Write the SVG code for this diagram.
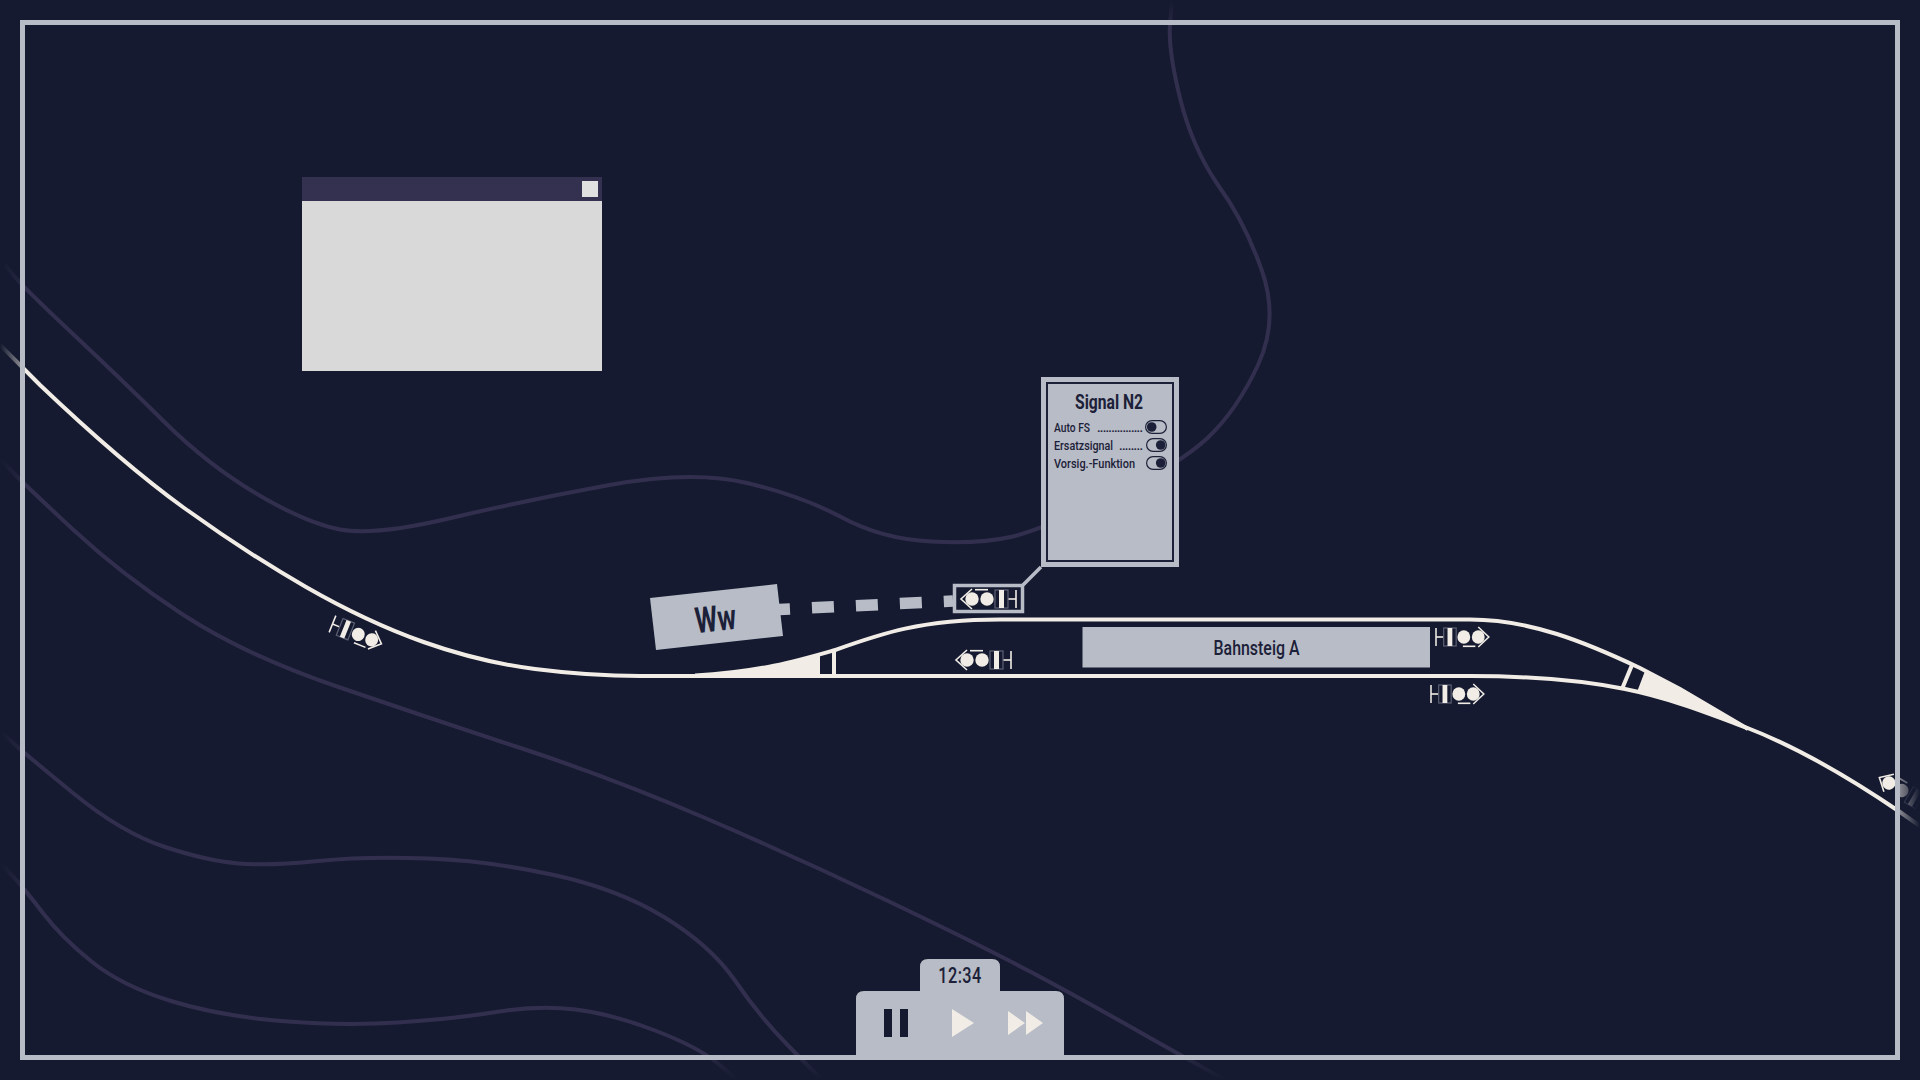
<svg xmlns="http://www.w3.org/2000/svg" xmlns:xlink="http://www.w3.org/1999/xlink" width="1920" height="1080" viewBox="0 0 1920 1080">
<style>
.contour{fill:none;stroke:#322f4e;stroke-width:4}
.track{fill:none;stroke:#f1ede6;stroke-width:4}
.fillc{fill:#f1ede6}
.panel{fill:#b7bcc6}
.dark{fill:#151a30}
.t{font-family:"Roboto","Liberation Sans",sans-serif;fill:#1c2038;font-weight:500}
.row{font-size:13px}
.tog{fill:none;stroke:#1c2038;stroke-width:1.2}
.sig line{stroke:#f1ede6;stroke-width:1.6}
.sig path{fill:none;stroke:#f1ede6;stroke-width:1.6}
.sig rect{fill:none;stroke:#5f6275;stroke-width:1.2}
</style>
<defs>
<g id="signal" class="sig">
<line x1="0" y1="-9" x2="0" y2="9"/>
<line x1="0" y1="0" x2="-8" y2="0"/>
<rect x="-21" y="-9" width="13" height="18"/>
<rect x="-17" y="-9" width="5" height="18" style="fill:#f1ede6;stroke:none"/>
<circle cx="-29" cy="0" r="6.7" class="fillc"/>
<circle cx="-44" cy="0" r="6.7" class="fillc"/>
<line x1="-41" y1="-9.3" x2="-28" y2="-9.3"/>
<path d="M-44 -10 L-55 0 L-44 10"/>
</g>
<linearGradient id="fadeL" x1="0" y1="0" x2="1" y2="0"><stop offset="0" stop-color="#151a30"/><stop offset="1" stop-color="#151a30" stop-opacity="0.5"/></linearGradient>
<linearGradient id="fadeR" x1="1" y1="0" x2="0" y2="0"><stop offset="0" stop-color="#151a30"/><stop offset="1" stop-color="#151a30" stop-opacity="0.5"/></linearGradient>
<linearGradient id="fadeT" x1="0" y1="0" x2="0" y2="1"><stop offset="0" stop-color="#151a30"/><stop offset="1" stop-color="#151a30" stop-opacity="0.5"/></linearGradient>
<linearGradient id="fadeB" x1="0" y1="1" x2="0" y2="0"><stop offset="0" stop-color="#151a30"/><stop offset="1" stop-color="#151a30" stop-opacity="0.5"/></linearGradient>
</defs>
<rect width="1920" height="1080" class="dark"/>
<g id="contours">
<path class="contour" d="M1172 0 L1170 24.5 Q1168 49 1180 98 Q1192 147 1218 185 Q1245 222 1262 271 Q1279 320 1258 365 Q1237 410 1208 437.5 Q1179 465 1110 497.5 Q1041 530 1010.5 537 Q980 544 931 541.5 Q882 539 842 517.5 Q802 496 747 483 Q692 470 609.5 485 Q527 500 451 518 Q375 536 340 529.5 Q306 523 257 494 Q208 465 165 422.5 Q122 380 73 334 Q24 288 14.5 276.5 L5 265"/>
<path class="contour" d="M0 459 L12 471.5 Q24 484 73 529.5 Q122 575 183.5 615 Q245 655 337 686.5 Q429 718 520.5 748 Q612 778 704 817.5 Q796 857 888 901 Q980 945 1030 971.5 Q1080 998 1152 1039 L1225 1080"/>
<path class="contour" d="M0 731 L12 742 Q24 753 73 793 Q122 833 165 847 Q208 861 238.5 863.5 Q269 866 318 861 Q367 856 428.5 858.5 Q490 861 554 875 Q618 889 664 917 Q710 945 735 980.5 Q759 1016 789.5 1047 L820 1078"/>
<path class="contour" d="M0 863 L12 875.5 Q24 888 42.5 912.5 Q61 937 91.5 961.5 Q122 986 171 1001 Q220 1016 281.5 1021 Q343 1026 398 1022.5 Q453 1019 496 1012 Q539 1005 575.5 1009.5 Q612 1014 655 1030.5 Q698 1047 716.5 1062.5 L735 1078"/>
</g>
<g id="connectors">
<path class="track" d="M0 345 L40 385 Q122 463 183.5 507.5 Q245 552 306 587 Q367 622 423.5 642 Q480 662 535 669 Q590 676 640 676 L1470 676 C1530 676 1580 680 1625 689 C1670 698 1710 714 1745 727 C1800 748 1850 778 1900 812 L1920 826"/>
<path class="track" d="M695 675.5 C760 672 800 660 835 650 C880 634 920 619.5 1000 619.5 L1470 619.5 C1530 619.5 1585 642 1640 668 L1680 689 L1748 729"/>
<path class="fillc" d="M690 676 C750 674 790 663 820 655 L820 676 Z"/>
<path class="fillc" d="M1645 671 L1637 692 C1680 702 1710 714 1745 728 L1748 729 L1680 689 Z"/>
<line class="track" x1="834" y1="650" x2="834" y2="676"/>
<line class="track" x1="1632" y1="665" x2="1622" y2="689"/>
<path d="M768 610 L953 601" fill="none" stroke="#b7bcc6" stroke-width="11.5" stroke-dasharray="22 22"/>
<path d="M1023 585 L1041 567" fill="none" stroke="#b7bcc6" stroke-width="3.5"/>
</g>
<g id="signal-n2">
<rect x="954.5" y="585.5" width="68" height="26" fill="#151a30" stroke="#b7bcc6" stroke-width="3.5"/>
<use href="#signal" xlink:href="#signal" transform="translate(1016 599)"/>
</g>
<g id="signal-lower-left"><use href="#signal" xlink:href="#signal" transform="translate(1011 660)"/></g>
<g id="signal-right-upper"><use href="#signal" xlink:href="#signal" transform="translate(1436 637) rotate(180) scale(.96 1)"/></g>
<g id="signal-right-lower"><use href="#signal" xlink:href="#signal" transform="translate(1431 694) rotate(180) scale(.96 1)"/></g>
<g id="signal-west"><use href="#signal" xlink:href="#signal" transform="translate(332.5 624) rotate(202) scale(.96 1)"/></g>
<g id="signal-east"><use href="#signal" xlink:href="#signal" transform="translate(1927 805) rotate(30)"/></g>
<g id="edge-fade">
<rect x="0" y="0" width="20" height="1080" fill="url(#fadeL)"/>
<rect x="1900" y="0" width="20" height="1080" fill="url(#fadeR)"/>
<rect x="0" y="0" width="1920" height="20" fill="url(#fadeT)"/>
<rect x="0" y="1060" width="1920" height="20" fill="url(#fadeB)"/>
</g>
<g id="frame"><rect x="22.5" y="22.5" width="1875" height="1035" fill="none" stroke="#b7bcc6" stroke-width="5"/></g>
<g id="window">
<rect x="302" y="201" width="300" height="170" fill="#d9d9d9"/>
<rect x="302" y="177" width="300" height="24" fill="#34304f"/>
<rect x="582" y="181" width="16" height="16" fill="#e0e0e0"/>
</g>
<g id="ww">
<path class="panel" d="M650 598 L777 584 L783 636 L656 650 Z"/>
<text class="t" transform="translate(717 631) rotate(-6.3)" text-anchor="middle" font-size="36" style="font-weight:700" textLength="41" lengthAdjust="spacingAndGlyphs">Ww</text>
</g>
<g id="bahnsteig">
<rect class="panel" x="1082.5" y="627" width="347.5" height="40.5"/>
<text class="t" x="1256.5" y="655" text-anchor="middle" font-size="20" textLength="86" lengthAdjust="spacingAndGlyphs">Bahnsteig A</text>
</g>
<g id="signal-panel">
<rect class="panel" x="1041" y="377" width="138" height="190"/>
<rect x="1047" y="383" width="126" height="178" fill="none" stroke="#1c2038" stroke-width="2"/>
<text class="t" x="1109" y="409" text-anchor="middle" font-size="21" style="font-weight:700" textLength="68" lengthAdjust="spacingAndGlyphs">Signal N2</text>
<text class="t row" x="1054" y="432"><tspan textLength="36" lengthAdjust="spacingAndGlyphs">Auto FS</tspan><tspan x="1097" textLength="46" lengthAdjust="spacing">................</tspan></text>
<rect class="tog" x="1145.6" y="420.6" width="20.8" height="12.8" rx="6.4"/><circle cx="1151.7" cy="427" r="4.8" fill="#1c2038"/>
<text class="t row" x="1054" y="450"><tspan textLength="59" lengthAdjust="spacingAndGlyphs">Ersatzsignal</tspan><tspan x="1119" textLength="24" lengthAdjust="spacing">........</tspan></text>
<rect class="tog" x="1146.6" y="438.6" width="19.8" height="12.8" rx="6.4"/><circle cx="1160.7" cy="445" r="4.8" fill="#1c2038"/>
<text class="t row" x="1054" y="468" textLength="81" lengthAdjust="spacingAndGlyphs">Vorsig.-Funktion</text>
<rect class="tog" x="1146.6" y="456.6" width="19.8" height="12.8" rx="6.4"/><circle cx="1160.7" cy="463" r="4.8" fill="#1c2038"/>
</g>
<g id="controls">
<path class="panel" d="M920 991 V967 Q920 959 928 959 H992 Q1000 959 1000 967 V991 H1056 Q1064 991 1064 999 V1060 H856 V999 Q856 991 864 991 Z"/>
<text class="t" transform="translate(960 983) scale(.74 1)" text-anchor="middle" font-size="22" letter-spacing="0.6">12:34</text>
<rect class="dark" x="884" y="1009" width="8" height="28"/>
<rect class="dark" x="900" y="1009" width="8" height="28"/>
<path class="fillc" d="M952 1009 L974 1023 L952 1037 Z"/>
<path class="fillc" d="M1008 1011 L1025 1023 L1008 1035 Z M1026 1011 L1043 1023 L1026 1035 Z"/>
</g>
</svg>
